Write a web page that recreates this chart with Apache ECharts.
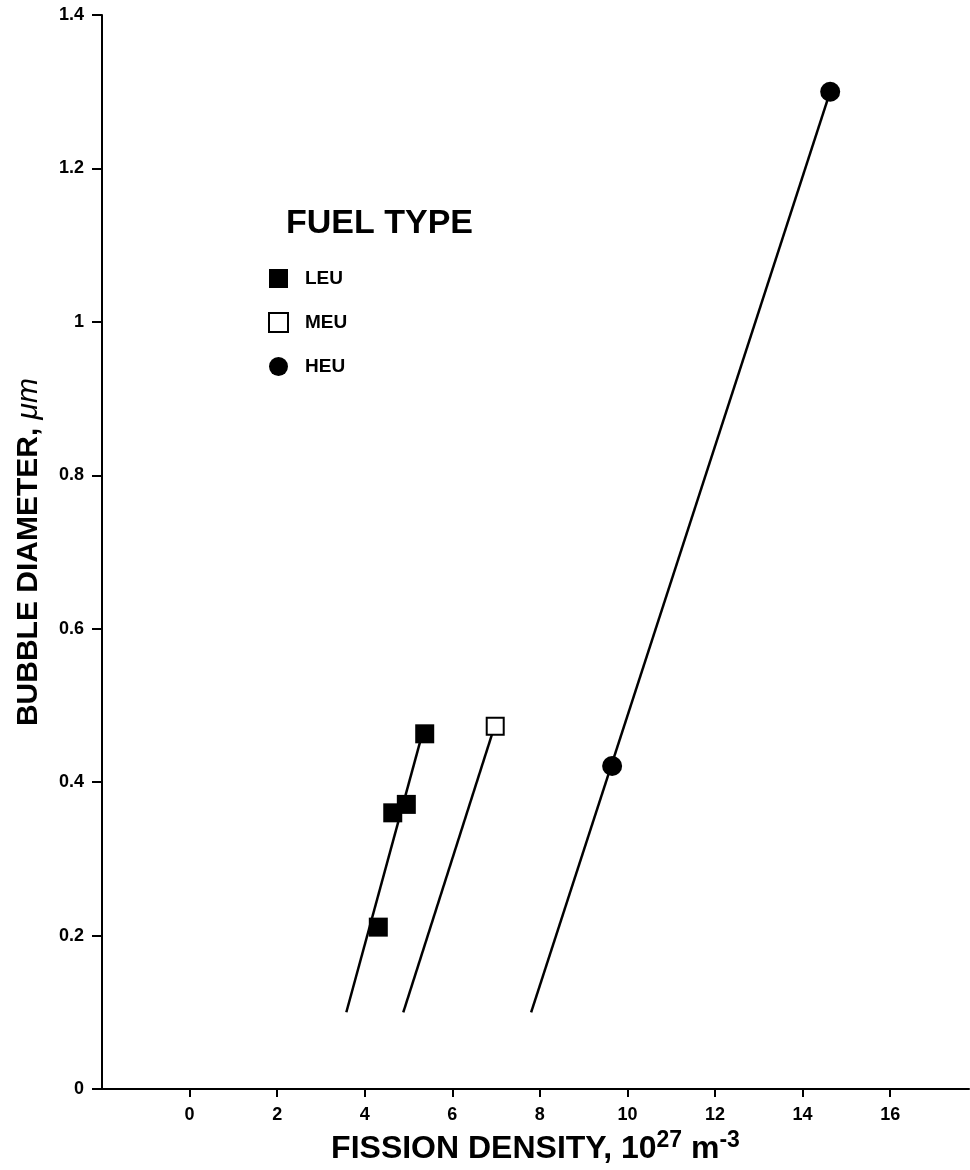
<!DOCTYPE html>
<html>
<head>
<meta charset="utf-8">
<script src="https://cdn.jsdelivr.net/npm/echarts@6/dist/echarts.min.js"></script>
<style>
html,body{margin:0;padding:0;background:#fff;}
#chart{width:970px;height:1170px;}
</style>
</head>
<body>
<div id="chart"></div>
<script>
// ---- data ----
const xTickValues = [0, 2, 4, 6, 8, 10, 12, 14, 16];
const yTickValues = [0, 0.2, 0.4, 0.6, 0.8, 1, 1.2, 1.4];

const leuX = [4.31, 4.64, 4.95, 5.37];
const leuY = [0.211, 0.360, 0.371, 0.463];
const meuX = [6.98];
const meuY = [0.473];
const heuX = [9.65, 14.63];
const heuY = [0.421, 1.30];

const leuFitX = [3.58, 5.30];
const leuFitY = [0.10, 0.46];
const meuFitX = [4.88, 6.95];
const meuFitY = [0.10, 0.47];
const heuFitX = [7.80, 14.63];
const heuFitY = [0.10, 1.30];

const legendTitle = 'FUEL TYPE';
const seriesNames = ['LEU', 'MEU', 'HEU'];

const zip = (xs, ys) => xs.map((x, i) => [x, ys[i]]);
const FONT = '"Liberation Sans", Arial, Helvetica, sans-serif';

const chart = echarts.init(document.getElementById('chart'), null, {renderer: 'canvas'});

const fitLine = (xs, ys) => ({
  type: 'line',
  data: zip(xs, ys),
  showSymbol: false,
  symbol: 'none',
  lineStyle: {color: '#000', width: 2.5},
  silent: true,
  z: 1
});

chart.setOption({
  animation: false,
  backgroundColor: '#fff',
  title: {
    text: legendTitle,
    left: 281,
    top: 202,
    textStyle: {fontFamily: FONT, fontWeight: 'bold', fontSize: 34, color: '#000'}
  },
  legend: {
    orient: 'vertical',
    left: 263,
    top: 264,
    itemWidth: 19,
    itemHeight: 19,
    itemGap: 24,
    data: seriesNames,
    textStyle: {fontFamily: FONT, fontWeight: 'bold', fontSize: 19, color: '#000', padding: [0, 0, 0, 12]}
  },
  grid: {left: 102, right: 1, top: 15, bottom: 78, containLabel: false},
  xAxis: {
    type: 'value',
    min: -2,
    max: 17.8,
    interval: 2,
    name: '{b|FISSION DENSITY, 10}{s|27}{b| m}{s|-3}',
    nameLocation: 'middle',
    nameGap: 40,
    nameTextStyle: {
      rich: {
        b: {fontFamily: FONT, fontWeight: 'bold', fontSize: 32, color: '#000', lineHeight: 36, verticalAlign: 'bottom'},
        s: {fontFamily: FONT, fontWeight: 'bold', fontSize: 23, color: '#000', lineHeight: 36, verticalAlign: 'top'}
      }
    },
    axisLine: {show: true, onZero: false, lineStyle: {color: '#000', width: 2}},
    axisTick: {show: true, inside: false, length: 8, lineStyle: {color: '#000', width: 2}, customValues: xTickValues},
    axisLabel: {
      customValues: xTickValues,
      margin: 17,
      fontFamily: FONT, fontWeight: 'bold', fontSize: 18, color: '#000',
      formatter: v => (xTickValues.indexOf(v) >= 0 ? String(v) : '')
    },
    splitLine: {show: false}
  },
  yAxis: {
    type: 'value',
    min: 0,
    max: 1.4,
    interval: 0.2,
    name: '{b|BUBBLE DIAMETER, }{i|\u03bcm}',
    nameLocation: 'middle',
    nameRotate: 90,
    nameGap: 58,
    nameTextStyle: {
      rich: {
        b: {fontFamily: FONT, fontWeight: 'bold', fontSize: 30, color: '#000'},
        i: {fontFamily: FONT, fontStyle: 'italic', fontSize: 30, color: '#000'}
      }
    },
    axisLine: {show: true, onZero: false, lineStyle: {color: '#000', width: 2}},
    axisTick: {show: true, inside: false, length: 10, lineStyle: {color: '#000', width: 2}},
    axisLabel: {
      margin: 18,
      fontFamily: FONT, fontWeight: 'bold', fontSize: 18, color: '#000',
      formatter: v => String(+v.toFixed(1))
    },
    splitLine: {show: false}
  },
  series: [
    fitLine(leuFitX, leuFitY),
    fitLine(meuFitX, meuFitY),
    fitLine(heuFitX, heuFitY),
    {
      name: 'LEU', type: 'scatter', data: zip(leuX, leuY),
      symbol: 'rect', symbolSize: 19,
      itemStyle: {color: '#000', opacity: 1}, z: 5
    },
    {
      name: 'MEU', type: 'scatter', data: zip(meuX, meuY),
      symbol: 'rect', symbolSize: 17,
      itemStyle: {color: '#fff', borderColor: '#000', borderWidth: 2, opacity: 1}, z: 5
    },
    {
      name: 'HEU', type: 'scatter', data: zip(heuX, heuY),
      symbol: 'circle', symbolSize: 20,
      itemStyle: {color: '#000', opacity: 1}, z: 5
    }
  ]
});
</script>
</body>
</html>
